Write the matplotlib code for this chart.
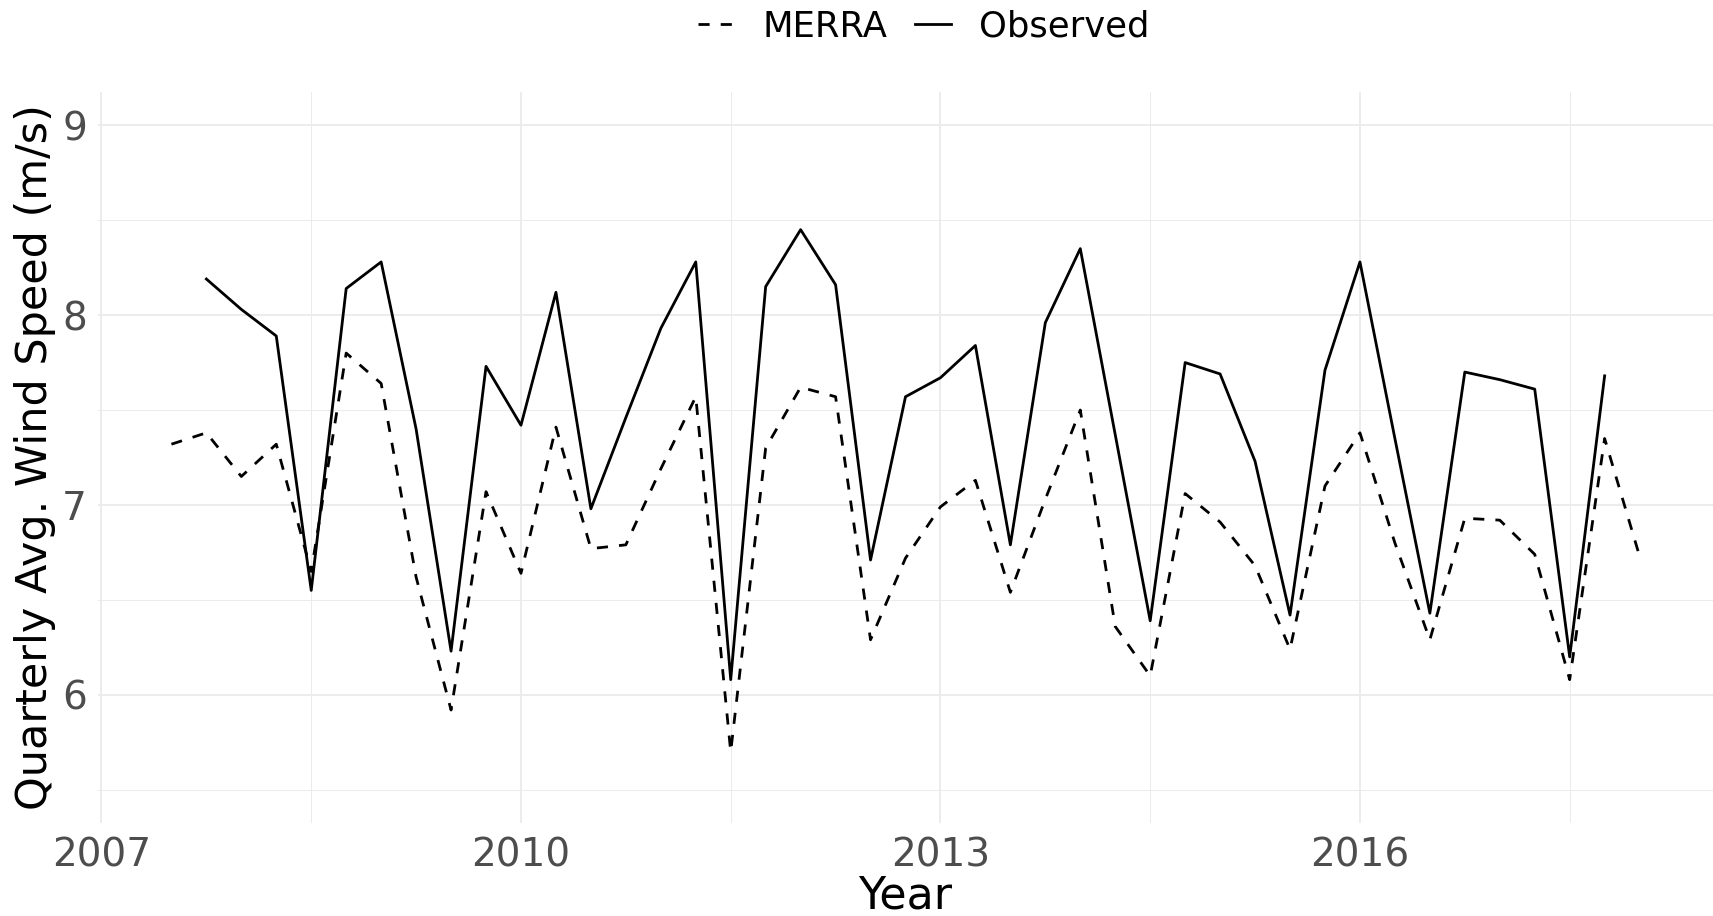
import numpy as np
import matplotlib
matplotlib.use("Agg")
import matplotlib.pyplot as plt

# quarterly values (decimal years)
merra_years = [2007.50, 2007.75, 2008.00, 2008.25, 2008.50, 2008.75, 2009.00, 2009.25,
               2009.50, 2009.75, 2010.00, 2010.25, 2010.50, 2010.75, 2011.00, 2011.25,
               2011.50, 2011.75, 2012.00, 2012.25, 2012.50, 2012.75, 2013.00, 2013.25,
               2013.50, 2013.75, 2014.00, 2014.25, 2014.50, 2014.75, 2015.00, 2015.25,
               2015.50, 2015.75, 2016.00, 2016.25, 2016.50, 2016.75, 2017.00, 2017.25,
               2017.50, 2017.75, 2018.00]
merra_speed = [7.32, 7.38, 7.15, 7.32, 6.65, 7.80, 7.64, 6.62,
               5.92, 7.07, 6.64, 7.41, 6.77, 6.79, 7.19, 7.57,
               5.70, 7.30, 7.62, 7.57, 6.29, 6.72, 6.99, 7.13,
               6.54, 7.03, 7.50, 6.36, 6.10, 7.06, 6.91, 6.68,
               6.24, 7.10, 7.38, 6.80, 6.29, 6.93, 6.92, 6.74,
               6.08, 7.35, 6.73]

obs_years = [2007.75, 2008.00, 2008.25, 2008.50, 2008.75, 2009.00, 2009.25, 2009.50,
             2009.75, 2010.00, 2010.25, 2010.50, 2010.75, 2011.00, 2011.25, 2011.50,
             2011.75, 2012.00, 2012.25, 2012.50, 2012.75, 2013.00, 2013.25, 2013.50,
             2013.75, 2014.00, 2014.25, 2014.50, 2014.75, 2015.00, 2015.25, 2015.50,
             2015.75, 2016.00, 2016.25, 2016.50, 2016.75, 2017.00, 2017.25, 2017.50,
             2017.75]
obs_speed = [8.19, 8.03, 7.89, 6.55, 8.14, 8.28, 7.40, 6.23,
             7.73, 7.42, 8.12, 6.98, 7.46, 7.93, 8.28, 6.08,
             8.15, 8.45, 8.16, 6.71, 7.57, 7.67, 7.84, 6.79,
             7.96, 8.35, 7.37, 6.39, 7.75, 7.69, 7.23, 6.42,
             7.71, 8.28, 7.35, 6.43, 7.70, 7.66, 7.61, 6.20,
             7.68]

x_ticks = [2007, 2010, 2013, 2016]
y_ticks = [6, 7, 8, 9]

W, H = 1713, 916
fig = plt.figure(figsize=(W / 100, H / 100), dpi=100)
ax = fig.add_axes([98 / W, 1 - 823 / H, (W - 98) / W, (823 - 92) / H])

ax.plot(merra_years, merra_speed, color="black", lw=2.0, ls=(0, (4, 4)), label="MERRA")
ax.plot(obs_years, obs_speed, color="black", lw=2.0, ls="-", label="Observed")

ax.set_xlim(2006.975, 2018.525)
ax.set_ylim(5.325, 9.175)
ax.set_xticks(x_ticks)
ax.set_xticks([2008.5, 2011.5, 2014.5, 2017.5], minor=True)
ax.set_yticks(y_ticks)
ax.set_yticks([5.5, 6.5, 7.5, 8.5], minor=True)
ax.grid(which="major", color="#EBEBEB", lw=1.3)
ax.grid(which="minor", color="#EBEBEB", lw=0.7)
ax.set_axisbelow(True)
for s in ax.spines.values():
    s.set_visible(False)
ax.tick_params(which="both", length=0)
ax.tick_params(axis="x", labelsize=28, colors="#4D4D4D", pad=10)
ax.tick_params(axis="y", labelsize=28, colors="#4D4D4D", pad=8)

ax.set_xlabel("Year", fontsize=32, labelpad=0)
ax.set_ylabel("Quarterly Avg. Wind Speed (m/s)", fontsize=31, labelpad=4)

fig.legend(loc="upper center", bbox_to_anchor=(924 / W, 1.024), ncol=2, frameon=False,
           fontsize=25.5, handlelength=1.0, handletextpad=0.8, columnspacing=0.8)

fig.savefig("out.png", dpi=100)
